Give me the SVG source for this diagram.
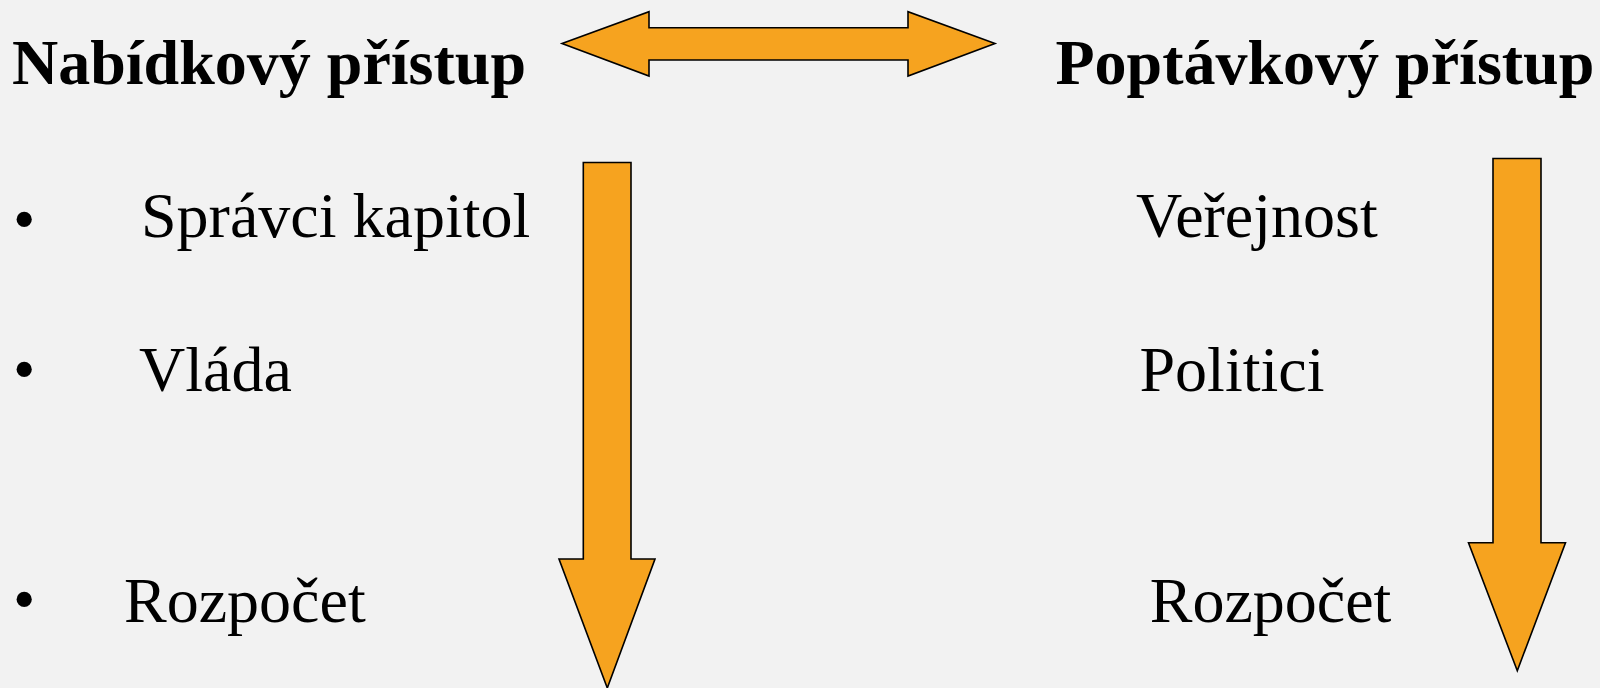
<svg xmlns="http://www.w3.org/2000/svg" width="1600" height="688" viewBox="0 0 1600 688">
<style>
.arrow{fill:#f6a31f;stroke:#000;stroke-width:1.6;stroke-linejoin:miter}
.h{font-family:"Liberation Serif","Times New Roman",serif;font-weight:bold;font-size:64px;fill:#000}
.t{font-family:"Liberation Serif","Times New Roman",serif;font-size:64px;fill:#000}
</style>
<rect width="1600" height="688" fill="#f2f2f2"/>
<g id="connectors">
<polygon id="double-arrow" class="arrow" points="562,43.5 649,11.7 649,27.7 908,27.7 908,11.7 995,43.5 908,76 908,60 649,60 649,76"/>
<polygon id="arrow-left" class="arrow" points="583.3,162.5 631,162.5 631,559 655,559 607.3,688 559,559 583.3,559"/>
<polygon id="arrow-right" class="arrow" points="1493,158.5 1541,158.5 1541,542.7 1565.5,542.7 1517.3,670.7 1468.5,542.7 1493,542.7"/>
</g>
<g id="node-nabidkovy">
<text class="h" x="12" y="83.5">Nabídkový přístup</text>
</g>
<g id="node-poptavkovy">
<text class="h" x="1055.5" y="83.5">Poptávkový přístup</text>
</g>
<g id="node-spravci">
<text class="t" x="13" y="241">•</text>
<text class="t" x="141" y="237">Správci kapitol</text>
</g>
<g id="node-vlada">
<text class="t" x="13" y="391">•</text>
<text class="t" x="139" y="391">Vláda</text>
</g>
<g id="node-rozpocet-left">
<text class="t" x="13" y="621">•</text>
<text class="t" x="124" y="621.5">Rozpočet</text>
</g>
<g id="node-verejnost">
<text class="t" x="1136" y="237">Veřejnost</text>
</g>
<g id="node-politici">
<text class="t" x="1139.5" y="391">Politici</text>
</g>
<g id="node-rozpocet-right">
<text class="t" x="1149.7" y="621.5">Rozpočet</text>
</g>
</svg>
